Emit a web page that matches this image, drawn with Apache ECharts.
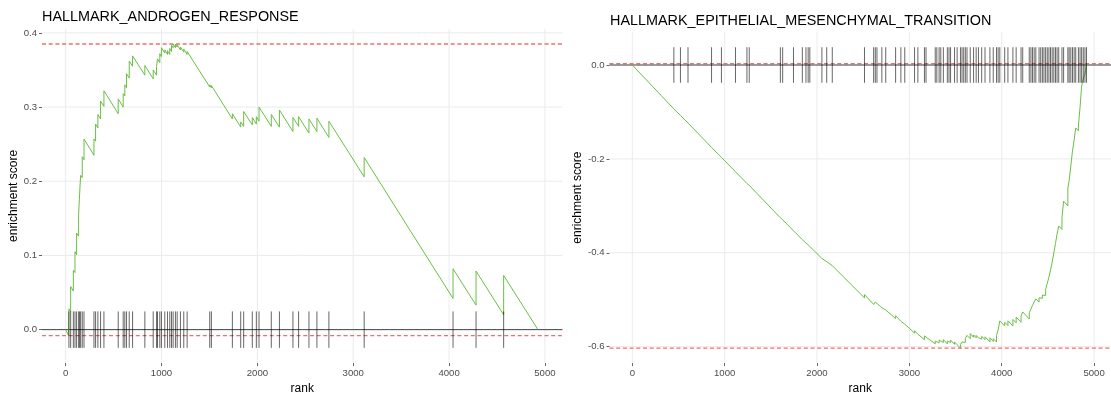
<!DOCTYPE html>
<html><head><meta charset="utf-8">
<script src="https://cdn.jsdelivr.net/npm/echarts@6/dist/echarts.min.js"></script>
<style>html,body{margin:0;padding:0;background:#fff}#c{width:1111px;height:400px}</style>
</head><body><div id="c"></div>
<script>
// ---------- data ----------
const xTicks = [0, 1000, 2000, 3000, 4000, 5000];
const leftYTicks = [0, 0.1, 0.2, 0.3, 0.4];
const rightYTicks = [-0.6, -0.4, -0.2, 0];
const leftTitle = 'HALLMARK_ANDROGEN_RESPONSE';
const rightTitle = 'HALLMARK_EPITHELIAL_MESENCHYMAL_TRANSITION';

// gene positions (rank) of pathway hits
const leftHits = [34, 52, 80, 97, 114, 135, 145, 156, 173, 191, 295, 312, 336, 364, 399, 548, 600, 617, 635, 663, 698,
  826, 913, 948, 958, 982, 999, 1034, 1062, 1086, 1104, 1121, 1145, 1163, 1197, 1232, 1267, 1503, 1520, 1739, 1826,
  1857, 1947, 1989, 2017, 2145, 2230, 2371, 2430, 2538, 2621, 2746, 3114, 4041, 4281, 4569];
const rightHits = [450, 521, 603, 858, 965, 1117, 1241, 1266, 1603, 1628, 1745, 1841, 1880, 1904, 1922, 2053, 2105,
  2165, 2514, 2613, 2631, 2649, 2702, 2744, 2851, 2908, 2950, 3056, 3092, 3163, 3180, 3280, 3297, 3322, 3340, 3368,
  3411, 3429, 3446, 3489, 3517, 3553, 3570, 3588, 3606, 3624, 3659, 3695, 3723, 3748, 3783, 3819, 3872, 3908, 3943,
  3961, 3979, 4032, 4067, 4121, 4156, 4209, 4227, 4298, 4316, 4333, 4351, 4369, 4404, 4422, 4440, 4457, 4475, 4493,
  4511, 4528, 4546, 4564, 4582, 4599, 4617, 4652, 4670, 4716, 4730, 4748, 4766, 4784, 4801, 4830, 4848, 4865, 4883,
  4901, 4918];

// running enrichment score vertices [rank, ES]
const leftCurve = [[0,0],[30,-0.008],
  [34,-0.008],[34,0.028],[52,0.024],[52,0.058],[80,0.052],[80,0.080],[97,0.077],[97,0.105],[114,0.101],[114,0.130],
  [135,0.126],[135,0.155],[145,0.153],[145,0.182],[156,0.180],[156,0.208],[173,0.205],[173,0.233],[191,0.229],[191,0.257],
  [295,0.235],[295,0.257],[312,0.254],[312,0.277],[336,0.272],[336,0.290],[364,0.284],[364,0.308],[399,0.301],[399,0.322],
  [548,0.291],[548,0.311],[600,0.300],[600,0.318],[617,0.315],[617,0.330],[635,0.326],[635,0.345],[663,0.339],[663,0.362],
  [698,0.355],[698,0.369],[826,0.343],[826,0.356],
  [913,0.338],[913,0.350],[948,0.343],[948,0.355],[958,0.353],[958,0.365],[982,0.360],[982,0.372],[999,0.368],[999,0.380],
  [1034,0.373],[1034,0.377],[1062,0.371],[1062,0.376],[1086,0.371],[1086,0.379],[1104,0.375],[1104,0.383],
  [1121,0.380],[1121,0.385],[1145,0.380],[1145,0.385],[1163,0.381],[1163,0.384],[1197,0.377],[1197,0.381],
  [1232,0.374],[1232,0.378],[1267,0.371],[1267,0.375],[1503,0.327],[1503,0.330],[1520,0.326],[1520,0.329],
  [1739,0.284],[1739,0.291],[1826,0.273],[1826,0.280],[1857,0.274],[1857,0.294],[1947,0.276],[1947,0.286],
  [1989,0.277],[1989,0.287],[2017,0.281],[2017,0.300],[2145,0.274],[2145,0.290],[2230,0.273],[2230,0.296],
  [2371,0.267],[2371,0.286],[2430,0.274],[2430,0.287],[2538,0.265],[2538,0.284],[2621,0.267],[2621,0.285],
  [2746,0.259],[2746,0.281],[3114,0.206],[3114,0.232],[4041,0.042],[4041,0.082],[4281,0.033],[4281,0.079],
  [4569,0.020],[4569,0.073],[4927,0]];
const rightCurve = [[0,0],
  [450,-0.0936],[450,-0.0926],[521,-0.1074],[521,-0.1064],[603,-0.1235],[603,-0.1225],[858,-0.1755],[858,-0.1745],
  [965,-0.1968],[965,-0.1958],[1117,-0.2274],[1117,-0.2264],[1241,-0.2522],[1241,-0.2512],[1266,-0.2564],[1266,-0.2554],
  [1603,-0.3255],[1603,-0.3245],[1628,-0.3297],[1628,-0.3287],[1745,-0.3530],[1745,-0.3520],[1841,-0.3720],[1841,-0.3710],
  [1880,-0.3791],[1880,-0.3781],[1904,-0.3831],[1904,-0.3821],[1922,-0.3858],[1922,-0.3848],[2053,-0.4121],[2053,-0.4081],
  [2105,-0.4189],[2105,-0.4149],[2165,-0.4274],[2165,-0.4234],[2514,-0.496],[2514,-0.489],[2613,-0.510],[2613,-0.507],
  [2631,-0.511],[2631,-0.505],[2649,-0.509],[2649,-0.506],[2702,-0.517],[2702,-0.513],[2744,-0.522],[2744,-0.518],
  [2851,-0.540],[2851,-0.534],[2908,-0.546],[2908,-0.543],[2950,-0.552],[2950,-0.549],[3056,-0.571],[3056,-0.566],
  [3092,-0.5735],[3092,-0.570],[3163,-0.585],[3163,-0.577],[3180,-0.581],[3180,-0.573],[3280,-0.594],[3280,-0.588],
  [3297,-0.592],[3297,-0.587],[3322,-0.592],[3322,-0.586],[3340,-0.590],[3340,-0.585],[3368,-0.591],[3368,-0.585],
  [3411,-0.594],[3411,-0.588],[3429,-0.592],[3429,-0.587],[3446,-0.591],[3446,-0.586],[3489,-0.595],[3489,-0.590],
  [3517,-0.596],[3517,-0.595],[3553,-0.603],[3553,-0.595],[3570,-0.599],[3570,-0.590],[3588,-0.594],[3588,-0.587],
  [3606,-0.591],[3606,-0.582],[3624,-0.586],[3624,-0.576],[3659,-0.583],[3659,-0.572],[3695,-0.580],[3695,-0.575],
  [3723,-0.581],[3723,-0.576],[3748,-0.581],[3748,-0.577],[3783,-0.584],[3783,-0.578],[3819,-0.585],[3819,-0.579],
  [3872,-0.590],[3872,-0.581],[3908,-0.589],[3908,-0.583],[3943,-0.590],[3943,-0.576],[3961,-0.580],[3961,-0.565],
  [3979,-0.569],[3979,-0.545],[4032,-0.556],[4032,-0.548],[4067,-0.555],[4067,-0.545],[4121,-0.556],[4121,-0.542],
  [4156,-0.549],[4156,-0.537],[4209,-0.548],[4209,-0.535],[4227,-0.539],[4227,-0.526],[4298,-0.541],[4298,-0.528],
  [4316,-0.532],[4316,-0.520],[4333,-0.523],[4333,-0.512],[4351,-0.516],[4351,-0.505],[4369,-0.509],[4369,-0.498],
  [4404,-0.505],[4404,-0.496],[4422,-0.500],[4422,-0.493],[4440,-0.497],[4440,-0.490],[4457,-0.494],[4457,-0.487],
  [4475,-0.491],[4475,-0.478],[4493,-0.482],[4493,-0.465],[4511,-0.469],[4511,-0.452],[4528,-0.456],[4528,-0.437],
  [4546,-0.441],[4546,-0.420],[4564,-0.424],[4564,-0.400],[4582,-0.404],[4582,-0.380],[4599,-0.384],[4599,-0.360],
  [4617,-0.364],[4617,-0.343],[4652,-0.350],[4652,-0.325],[4670,-0.329],[4670,-0.290],[4716,-0.300],[4716,-0.262],
  [4730,-0.265],[4730,-0.246],[4748,-0.250],[4748,-0.215],[4766,-0.219],[4766,-0.183],[4784,-0.187],[4784,-0.160],
  [4801,-0.163],[4801,-0.134],[4830,-0.140],[4830,-0.130],[4848,-0.134],[4848,-0.090],[4865,-0.094],[4865,-0.045],
  [4883,-0.049],[4883,-0.028],[4901,-0.032],[4901,-0.020],[4918,-0.023],[4918,0.003],[4932,0]];

// min / max enrichment (red dashed lines)
const leftESBounds = [-0.008, 0.385];
const rightESBounds = [-0.603, 0.003];

// ---------- chart ----------
const FONT = '"Liberation Sans", Arial, sans-serif';
const GREEN = '#6abf45';
const RED = '#f26d6d';

function mkX(i) {
  return {
    type: 'value', gridIndex: i, min: -247, max: 5183,
    axisLine: { show: false, onZero: false },
    axisTick: { show: true, length: 3, customValues: xTicks, lineStyle: { color: '#666', width: 1 } },
    axisLabel: { customValues: xTicks, fontSize: 9.6, color: '#4d4d4d', margin: 5, fontFamily: FONT,
      formatter: v => String(Math.round(v)) },
    splitLine: { show: false },
    name: 'rank', nameLocation: 'middle', nameGap: 17,
    nameTextStyle: { fontSize: 12, color: '#000', fontFamily: FONT }
  };
}
function mkY(i, min, max, ticks) {
  return {
    type: 'value', gridIndex: i, min: min, max: max,
    axisLine: { show: false, onZero: false },
    axisTick: { show: true, length: 3, customValues: ticks, lineStyle: { color: '#666', width: 1 } },
    axisLabel: { customValues: ticks, fontSize: 9.6, color: '#4d4d4d', margin: 5, fontFamily: FONT,
      formatter: v => v.toFixed(1) },
    splitLine: { show: false },
    name: 'enrichment score', nameLocation: 'middle', nameGap: 22, nameRotate: 90,
    nameTextStyle: { fontSize: 12, color: '#000', fontFamily: FONT }
  };
}
function vGrid(i) {
  return { type: 'custom', xAxisIndex: i, yAxisIndex: i, z: 0, silent: true,
    data: xTicks.map(v => [v, 0]),
    renderItem: (p, api) => {
      const cs = p.coordSys; const x = api.coord([api.value(0), 0])[0];
      return { type: 'line', shape: { x1: x, y1: cs.y, x2: x, y2: cs.y + cs.height },
        style: { stroke: '#ebebeb', lineWidth: 1 } };
    } };
}
function hLines(i, values, color, width, dash, z) {
  return { type: 'custom', xAxisIndex: i, yAxisIndex: i, z: z, silent: true,
    data: values.map(v => [0, v]),
    renderItem: (p, api) => {
      const cs = p.coordSys; const y = api.coord([0, api.value(1)])[1];
      return { type: 'line', shape: { x1: cs.x, y1: y, x2: cs.x + cs.width, y2: y },
        style: { stroke: color, lineWidth: width, lineDash: dash } };
    } };
}
function rug(i, hits, bounds) {
  const h = (bounds[1] - bounds[0]) / 16;
  return { type: 'custom', xAxisIndex: i, yAxisIndex: i, z: 4, silent: true,
    data: hits.map(r => [r, 0]),
    renderItem: (p, api) => {
      const a = api.coord([api.value(0), -h]); const b = api.coord([api.value(0), h]);
      return { type: 'line', shape: { x1: a[0], y1: a[1], x2: b[0], y2: b[1] },
        style: { stroke: 'rgba(0,0,0,0.6)', lineWidth: 1 } };
    } };
}
function curve(i, data) {
  return { type: 'line', xAxisIndex: i, yAxisIndex: i, z: 3, silent: true, data: data,
    showSymbol: false, symbol: 'none', lineStyle: { color: GREEN, width: 1 } };
}

const chart = echarts.init(document.getElementById('c'), null, { renderer: 'canvas' });
chart.setOption({
  animation: false,
  backgroundColor: '#fff',
  title: [
    { text: leftTitle, left: 42, top: 10, padding: 0,
      textStyle: { fontSize: 14.4, fontWeight: 'normal', color: '#000', fontFamily: FONT } },
    { text: rightTitle, left: 610, top: 14, padding: 0,
      textStyle: { fontSize: 14.4, fontWeight: 'normal', color: '#000', fontFamily: FONT } }
  ],
  grid: [
    { left: 42, top: 28.8, width: 520.5, height: 342.5 },
    { left: 609.5, top: 32.2, width: 510.4, height: 337.7 }
  ],
  xAxis: [mkX(0), mkX(1)],
  yAxis: [mkY(0, -0.0451, 0.4055, leftYTicks), mkY(1, -0.635, 0.0699, rightYTicks)],
  series: [
    vGrid(0), hLines(0, leftYTicks, '#ebebeb', 1, null, 0),
    vGrid(1), hLines(1, rightYTicks, '#ebebeb', 1, null, 0),
    hLines(0, leftESBounds, RED, 1.4, [4, 2.7], 1), hLines(0, [0], '#444', 1, null, 1),
    hLines(1, rightESBounds, RED, 1.4, [4, 2.7], 1), hLines(1, [0], '#444', 1, null, 1),
    curve(0, leftCurve), curve(1, rightCurve),
    rug(0, leftHits, leftESBounds), rug(1, rightHits, rightESBounds)
  ]
});
</script></body></html>
